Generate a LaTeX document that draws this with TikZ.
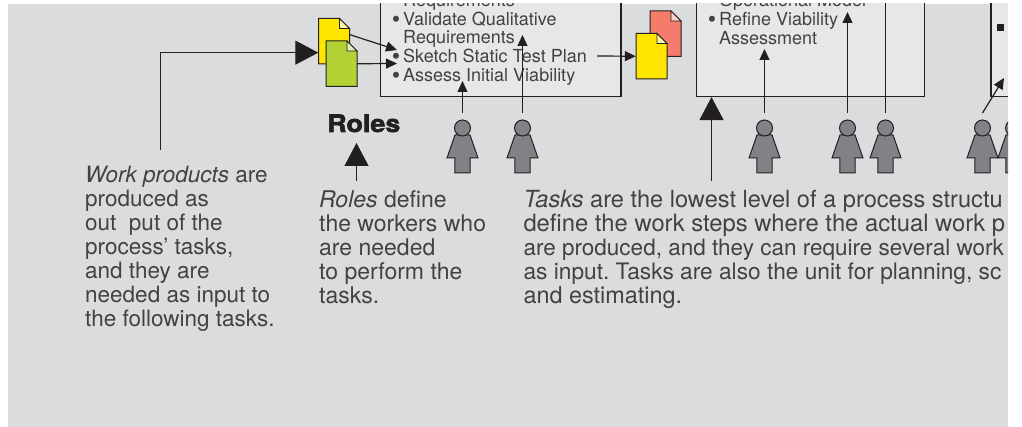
\documentclass[tikz,border=0pt]{standalone}
\usepackage{fontspec}
\setmainfont{TeX Gyre Heros}
\newfontfamily\rolesfont[FakeBold=2.4,FakeStretch=1.12]{TeX Gyre Heros Bold}
\usepackage{xcolor}
\usepackage{tikz}
\usetikzlibrary{arrows.meta, positioning}
\definecolor{panelgray}{RGB}{219, 220, 222}
\definecolor{taskgray}{RGB}{230, 231, 233}
\definecolor{inkblack}{RGB}{35, 31, 32}
\definecolor{textgray}{RGB}{66, 66, 68}
\definecolor{rolegray}{RGB}{128, 130, 133}
\definecolor{docyellow}{RGB}{255, 230, 0}
\definecolor{docgreen}{RGB}{178, 210, 53}
\definecolor{docred}{RGB}{244, 124, 107}

% one work product: page with folded corner, the node carries the name
\newcommand{\workdoc}[4]{
    \draw[inkblack, line width=1pt, fill=#4] (#2,#3) -- ++(21,0) -- ++(10,10) -- ++(0,35.5) -- ++(-31,0) -- cycle;
    \draw[inkblack, line width=.8pt, fill=#4!35] (#2+21,#3) -- ++(0,10) -- ++(10,0) -- cycle;
    \node[inner sep=0, minimum width=31pt, minimum height=45.5pt] (#1) at (#2+15.5,#3+22.75) {};
}
\newcommand{\linesize}[1]{\fontsize{#1}{24}\selectfont}

\begin{document}
\begin{tikzpicture}[
    x=1pt, y=-1pt,
    taskbox/.style={draw=inkblack, line width=1.2pt, fill=taskgray, inner sep=0},
    items/.style={anchor=north west, inner sep=0, align=left, text=textgray, font=\fontsize{18}{18.7}\selectfont},
    note/.style={anchor=north west, inner sep=0, align=left, text=textgray, font=\frenchspacing\fontsize{#1}{24}\selectfont},
    thinarrow/.style={draw=inkblack, line width=1.2pt, -{Triangle[length=11pt, width=10pt]}},
    bigarrow/.style={draw=inkblack, line width=1.2pt, -{Triangle[length=23pt, width=24pt]}},
    rolefig/.style={draw=inkblack, line width=1pt, fill=rolegray}
]
    \useasboundingbox (0,0) rectangle (1022,427);
    \newcommand{\itm}{\llap{\raisebox{-2.2pt}{\fontsize{24}{24}\selectfont\textbullet}\hspace{3pt}}}
    \begin{scope}
    \clip (8,4) rectangle (1008,427);
    \fill[panelgray] (8,4) rectangle (1008,427);

    % task boxes
    \node[taskbox, minimum width=240.5pt, minimum height=116.5pt] (planbox) at (500.75,38.25) {};
    \node[taskbox, minimum width=228pt, minimum height=116.5pt] (refinebox) at (810.5,38.25) {};
    \node[taskbox, minimum width=60pt, minimum height=116.5pt] (nextbox) at (1021,38.25) {};

    \node[items] (planitems) at (403,-7) {Requirements\\\itm Validate Qualitative\\Requirements\\\itm Sketch Static Test Plan\\\itm Assess Initial Viability};
    \node[items] (refineitems) at (719,-7) {Operational Model\\\itm Refine Viability\\Assessment};
    \node[fill=inkblack, inner sep=0, minimum size=7pt] (nextitem) at (1000.7,27.7) {};

    % work products
    \workdoc{docin}{318.5}{18.5}{docyellow}
    \workdoc{docuse}{326}{41}{docgreen}
    \workdoc{docrisk}{650}{11}{docred}
    \workdoc{docout}{636}{33.5}{docyellow}

    % roles
    \foreach \rolename/\x in {rolea/462.5, roleb/522.5, rolec/764.5, roled/847.5, rolee/885.5, rolef/982.5, roleg/1013.5} {
        \draw[rolefig] (\x-7.5,135) -- (\x+7.5,135) -- (\x+15.5,158) -- (\x+7.7,158) -- (\x+7.7,173) -- (\x-7.7,173) -- (\x-7.7,158) -- (\x-15.5,158) -- cycle;
        \node[circle, rolefig, inner sep=0, minimum size=16pt] (\rolename) at (\x,128) {};
        \coordinate (\rolename-top) at (\x,113);
    }

    \coordinate (ta) at (462.5,81);
    \coordinate (tb) at (522.5,35);
    \coordinate (tc) at (764.5,49);
    \coordinate (td) at (847.5,12);
    \coordinate (te) at (885.5,0);
    \coordinate (tf) at (1004,78);
    \draw[thinarrow] (rolea-top) -- (ta);
    \draw[thinarrow] (roleb-top) -- (tb);
    \draw[thinarrow] (rolec-top) -- (tc);
    \draw[thinarrow] (roled-top) -- (td);
    \draw[draw=inkblack, line width=1.2pt] (rolee-top) -- (te);
    \draw[thinarrow] (rolef-top) -- (tf);

    \coordinate (planin) at (397,50);
    \coordinate (planuse) at (397,63.5);
    \coordinate (planout) at (597,56);
    \draw[thinarrow] (docin.23) -- (planin);
    \draw[thinarrow] (docuse.east) -- (planuse);
    \draw[thinarrow] (planout) -- (docout.west);

    % notes below
    \node[anchor=base west, inner sep=0, text=inkblack, font=\rolesfont\fontsize{24}{24}\selectfont] (roleslabel) at (327,132) {Roles};
    \node[note=22.5] (worknote) at (85,166) {\textit{Work products} are\\produced as\\out\ \ put of the\\process’ tasks,\\and they are\\needed as input to\\the following tasks.};
    \node[note=23] (rolenote) at (319,190.5) {\textit{Roles} define\\the workers who\\are needed\\to perform the\\tasks.};
    \node[note=23] (tasknote) at (523.3,190.3) {\linesize{23.6}\textit{Tasks} are the lowest level of a process structu\\\linesize{23.8}define the work steps where the actual work p\\\linesize{22.5}are produced, and they can require several work\\\linesize{22.7}as input. Tasks are also the unit for planning, sc\\\linesize{23.4}and estimating.};

    \coordinate (workstart) at (160.5,150);
    \coordinate (rolestart) at (356.5,181);
    \coordinate (roletip) at (356.5,143);
    \coordinate (taskstart) at (711.5,181);
    \draw[bigarrow] (workstart) |- (docin.216);
    \draw[bigarrow] (rolestart) -- (roletip);
    \draw[bigarrow] (taskstart) -- (taskstart |- refinebox.south);
    \end{scope}
\end{tikzpicture}
\end{document}
